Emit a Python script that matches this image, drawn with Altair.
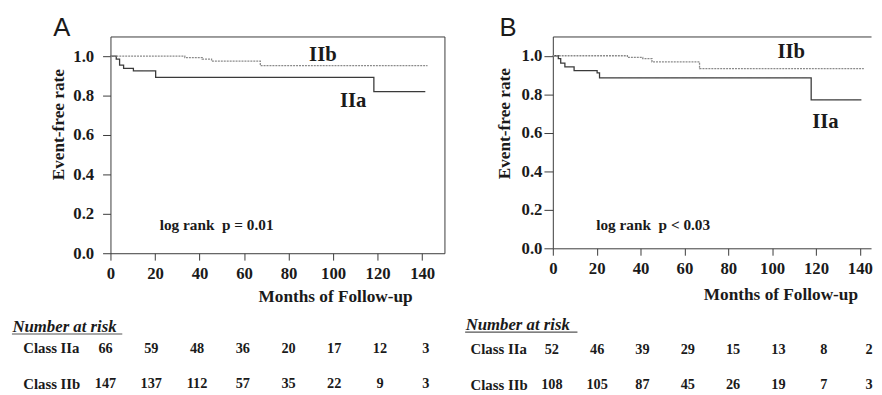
import altair as alt
import pandas as pd

SERIF = "Liberation Serif"
SANS = "Liberation Sans"
INK = "#3a3a3a"
TXT = "#1a1a1a"
NBSP = "\u00a0"

# ---------------- data ----------------
groups = ["IIa", "IIb"]
row_labels = ["Class IIa", "Class IIb"]
tick_months = [0, 20, 40, 60, 80, 100, 120, 140]
tick_rates = [0.0, 0.2, 0.4, 0.6, 0.8, 1.0]

# Panel A Kaplan-Meier steps
a_iia_month = [0, 2.6, 4.1, 5.9, 10.3, 20.3, 118.3, 141.4]
a_iia_rate = [1.0, 0.985, 0.955, 0.938, 0.925, 0.892, 0.82, 0.82]
a_iib_month = [0, 33.4, 41.2, 45.4, 67.3, 142.4]
a_iib_rate = [1.0, 0.993, 0.985, 0.975, 0.952, 0.952]

# Panel B Kaplan-Meier steps
b_iia_month = [0, 2.5, 3.6, 5.5, 9.7, 20.2, 21.3, 117.8, 140.7]
b_iia_rate = [1.0, 0.985, 0.962, 0.942, 0.923, 0.911, 0.885, 0.771, 0.771]
b_iib_month = [0, 34.0, 41.0, 45.2, 66.9, 141.8]
b_iib_rate = [1.0, 0.991, 0.985, 0.968, 0.933, 0.933]

# Number at risk
risk_months = [0, 20, 40, 60, 80, 100, 120, 140]
a_risk_iia = [66, 59, 48, 36, 20, 17, 12, 3]
a_risk_iib = [147, 137, 112, 57, 35, 22, 9, 3]
b_risk_iia = [52, 46, 39, 29, 15, 13, 8, 2]
b_risk_iib = [108, 105, 87, 45, 26, 19, 7, 3]

# curve label positions (month, rate)
a_label_month = [109.0, 95.4]
a_label_rate = [0.74, 0.975]
b_label_month = [124.3, 108.7]
b_label_rate = [0.625, 0.986]

a_p_text, a_p_month, a_p_rate = "log rank" + NBSP * 2 + "p = 0.01", 22.1, 0.12
b_p_text, b_p_month, b_p_rate = "log rank" + NBSP * 2 + "p < 0.03", 19.8, 0.095


def panel(letter, cfg, iia_m, iia_r, iib_m, iib_r, lab_m, lab_r,
          p_text, p_m, p_r, risk_iia, risk_iib):
    W, H = cfg["width"], cfg["height"]
    curves = pd.DataFrame({
        "month": iia_m + iib_m,
        "rate": iia_r + iib_r,
        "group": ["IIa"] * len(iia_m) + ["IIb"] * len(iib_m),
    })
    labels = pd.DataFrame({"month": lab_m, "rate": lab_r, "label": groups})
    ptxt = pd.DataFrame({"month": [p_m], "rate": [p_r], "t": [p_text]})
    risk = pd.DataFrame({
        "month": risk_months * 2,
        "n": risk_iia + risk_iib,
        "row": [row_labels[0]] * len(risk_months) + [row_labels[1]] * len(risk_months),
    })

    xs = alt.Scale(domain=[0, cfg["xmax"]], nice=False, zero=False)
    ys = alt.Scale(domain=[0, 1.1], nice=False)

    xaxis = alt.Axis(
        values=tick_months, format="d", grid=False,
        domainColor=INK, tickColor=INK, tickSize=7,
        labelFont=SERIF, labelFontWeight="bold", labelFontSize=17, labelColor=TXT,
        labelPadding=6, labelFlush=False, labelOverlap=False,
        title="Months of Follow-up", titleFont=SERIF, titleFontWeight="bold",
        titleFontSize=17.5, titleColor=TXT, titleX=cfg["xtitle_x"], titleY=cfg["xtitle_y"],
        titleAlign="center", titleBaseline="alphabetic", titleAnchor="start",
    )
    yaxis = alt.Axis(
        values=tick_rates, format=".1f", grid=False,
        domainColor=INK, tickColor=INK, tickSize=cfg["ytick"],
        labelFont=SERIF, labelFontWeight="bold", labelFontSize=17, labelColor=TXT,
        labelPadding=cfg["ypad"], labelFlush=False, labelOverlap=False,
        title="Event-free rate", titleFont=SERIF, titleFontWeight="bold",
        titleFontSize=17.5, titleColor=TXT, titleX=cfg["ytitle_x"], titleY=cfg["ytitle_y"],
        titleAngle=270, titleAlign="center", titleBaseline="alphabetic", titleAnchor="start",
    )

    lines = alt.Chart(curves).mark_line(interpolate="step-after").encode(
        x=alt.X("month:Q", scale=xs, axis=xaxis),
        y=alt.Y("rate:Q", scale=ys, axis=yaxis),
        color=alt.Color("group:N", scale=alt.Scale(domain=groups, range=[INK, "#8a8a8a"]), legend=None),
        strokeDash=alt.StrokeDash("group:N", scale=alt.Scale(domain=groups, range=[[1, 0], [2, 1]]), legend=None),
        strokeWidth=alt.StrokeWidth("group:N", scale=alt.Scale(domain=groups, range=[1.3, 1.3]), legend=None),
    )

    border_y_axis = (alt.Axis(orient="right", labels=False, ticks=False, grid=False, title=None,
                              domainColor=INK) if cfg["right_border"] else None)
    border = alt.Chart(curves).mark_point(opacity=0).encode(
        x=alt.X("month:Q", scale=xs, axis=alt.Axis(orient="top", labels=False, ticks=False,
                                                   grid=False, title=None, domainColor=INK)),
        y=alt.Y("rate:Q", scale=ys, axis=border_y_axis),
    )

    curve_text = alt.Chart(labels).mark_text(
        font=SERIF, fontWeight="bold", fontSize=21, align="center", baseline="alphabetic", color=TXT
    ).encode(
        x=alt.X("month:Q", scale=xs, axis=None),
        y=alt.Y("rate:Q", scale=ys, axis=None),
        text="label:N",
    )
    p_mark = alt.Chart(ptxt).mark_text(
        font=SERIF, fontWeight="bold", fontSize=15.5, align="left", baseline="alphabetic", color=TXT
    ).encode(
        x=alt.X("month:Q", scale=xs, axis=None),
        y=alt.Y("rate:Q", scale=ys, axis=None),
        text="t:N",
    )

    plot = alt.layer(lines, border, curve_text, p_mark).resolve_axis(x="independent", y="independent")

    table = alt.Chart(risk).mark_text(
        font=SERIF, fontWeight="bold", fontSize=14.5, align="center", baseline="alphabetic", color=TXT
    ).encode(
        x=alt.X("month:Q", scale=alt.Scale(domain=[0, 140], range=cfg["tx_range"], nice=False, zero=False),
                axis=None),
        y=alt.Y("row:N", scale=alt.Scale(type="point", domain=row_labels, range=cfg["ty_range"], padding=0),
                axis=alt.Axis(orient="left", domain=False, ticks=False, tickSize=0, grid=False,
                              minExtent=0, maxExtent=0,
                              labelAlign="left", labelBaseline="alphabetic", labelPadding=cfg["row_pad"],
                              labelFont=SERIF, labelFontWeight="bold", labelFontSize=15, labelColor=TXT,
                              title="Number at risk", titleAngle=0, titleX=cfg["nar_x"],
                              titleY=cfg["nar_y"], titleAlign="left", titleBaseline="alphabetic",
                              titleFont=SERIF, titleFontStyle="italic", titleFontWeight="bold",
                              titleFontSize=17, titleColor=TXT)),
        text="n:Q",
    )
    underline = alt.Chart(alt.Data(values=[{}])).mark_rule(color="#555", strokeWidth=1.2).encode(
        x=alt.value(cfg["nar_x"]), x2=alt.value(cfg["nar_x"] + cfg["nar_w"]), y=alt.value(cfg["nar_y"] + 3)
    )

    return alt.layer(plot, table, underline).resolve_scale(x="independent", y="independent").properties(
        width=W, height=H,
        title=alt.TitleParams(letter, anchor="start", frame="group", dx=cfg["letter_dx"], offset=-26,
                              baseline="alphabetic", font=SANS, fontSize=26, fontWeight="normal", color=TXT),
    )


cfg_a = dict(width=339, height=220, xmax=150, ytick=8, ypad=9, ytitle_x=-48, ytitle_y=89,
             xtitle_x=228, xtitle_y=49, tx_range=[-5, 320], ty_range=[321, 357], row_pad=89,
             nar_x=-100, nar_y=299, nar_w=112, right_border=True, letter_dx=-58)
cfg_b = dict(width=323, height=215, xmax=145.1, ytick=9, ypad=2, ytitle_x=-44, ytitle_y=88,
             xtitle_x=231, xtitle_y=52, tx_range=[-1, 321], ty_range=[322, 358], row_pad=84,
             nar_x=-89, nar_y=297, nar_w=114, right_border=False, letter_dx=-54)

pA = panel("A", cfg_a, a_iia_month, a_iia_rate, a_iib_month, a_iib_rate, a_label_month, a_label_rate,
           a_p_text, a_p_month, a_p_rate, a_risk_iia, a_risk_iib)
pB = panel("B", cfg_b, b_iia_month, b_iia_rate, b_iib_month, b_iib_rate, b_label_month, b_label_rate,
           b_p_text, b_p_month, b_p_rate, b_risk_iia, b_risk_iib)

chart = alt.hconcat(pA, pB, spacing=18).properties(
    padding={"left": 2, "top": 4, "right": 0, "bottom": 0},
    background="white",
).configure_view(stroke="transparent")

chart.save("out.html", embed_options={"renderer": "svg", "actions": False})
